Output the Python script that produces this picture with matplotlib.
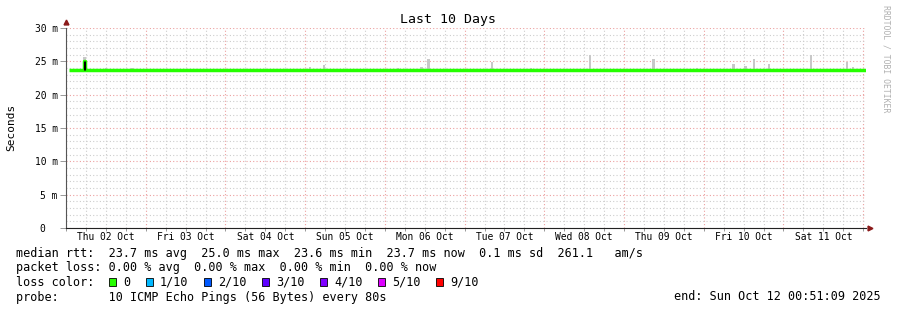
import numpy as np
import matplotlib
matplotlib.use("Agg")
import matplotlib.pyplot as plt
from matplotlib.patches import Rectangle
from matplotlib.transforms import blended_transform_factory

# ---------------------------------------------------------------
# data (hours counted from Thu 02 Oct 00:00, values in ms)
# ---------------------------------------------------------------
x_start, x_end = 0.85, 240.85
day_labels = ["Thu 02 Oct", "Fri 03 Oct", "Sat 04 Oct", "Sun 05 Oct", "Mon 06 Oct",
              "Tue 07 Oct", "Wed 08 Oct", "Thu 09 Oct", "Fri 10 Oct", "Sat 11 Oct"]

median_hours = [0.85, 5.5, 5.8, 40.0, 90.0, 140.0, 190.0, 240.85]
median_ms = [23.7, 25.0, 23.7, 23.7, 23.7, 23.7, 23.7, 23.7]

# smoke: the spread of the 10 pings above the median
smoke_hours = [5.6, 12.0, 20.0, 73.5, 77.6, 100.0, 107.1, 109.1, 128.3, 140.0,
               157.7, 176.9, 190.0, 200.9, 204.6, 207.1, 211.6, 224.3, 235.1, 237.0]
smoke_top = [25.7, 24.0, 24.0, 24.2, 24.4, 24.0, 24.2, 25.3, 24.9, 24.0,
             25.9, 25.3, 24.0, 24.6, 24.3, 25.3, 24.6, 25.9, 24.9, 24.2]
smoke_base = 23.7

loss_labels = ["0", "1/10", "2/10", "3/10", "4/10", "5/10", "9/10"]
loss_colors = ["#26ff00", "#00b8ff", "#0059ff", "#5e00ff", "#7e00ff", "#dd00ff", "#ff0000"]

legend_rows = [
    "median rtt:  23.7 ms avg  25.0 ms max  23.6 ms min  23.7 ms now  0.1 ms sd  261.1   am/s",
    "packet loss: 0.00 % avg  0.00 % max  0.00 % min  0.00 % now",
    "loss color:",
    "probe:       10 ICMP Echo Pings (56 Bytes) every 80s",
]
end_text = "end: Sun Oct 12 00:51:09 2025"

# ---------------------------------------------------------------
W, H = 897, 310
mono = "DejaVu Sans Mono"
fig = plt.figure(figsize=(W / 100, H / 100), dpi=100)
ax = fig.add_axes([66 / W, (H - 228) / H, (866 - 66) / W, 200 / H])

# smoke spikes
ms = 1e-3
ax.bar(smoke_hours, [(t - smoke_base) * ms for t in smoke_top], bottom=smoke_base * ms,
       width=0.75, color="#c8c8c8", linewidth=0, zorder=2)

# median line
ax.step(median_hours, [m * ms for m in median_ms], where="post",
        color=loss_colors[0], linewidth=2.5, zorder=3, solid_capstyle="butt")
ax.vlines([median_hours[1], median_hours[2]], median_ms[2] * ms, median_ms[1] * ms,
          color="black", linewidth=0.8, zorder=4)

ax.set_xlim(x_start, x_end)
ax.set_ylim(0, 30 * ms)

# grid
ax.set_xticks(np.arange(0, 241, 24))
ax.set_xticks(np.arange(0, 241, 6), minor=True)
ax.set_yticks(np.arange(0, 31, 5) * ms)
ax.set_yticks(np.arange(0, 31, 1) * ms, minor=True)
ax.set_xticklabels([])
ax.set_yticklabels(["0  "] + [f"{v} m" for v in range(5, 31, 5)],
                   fontfamily=mono, fontsize=6.9)
ax.grid(which="minor", color="#cdcdcd", linestyle=(0, (1, 2)), linewidth=0.8, zorder=0)
ax.grid(which="major", color="#eca0a0", linestyle=(0, (1, 2)), linewidth=0.8, zorder=1)
ax.tick_params(axis="y", which="major", length=4, width=0.6, color="#888888", pad=2)
ax.tick_params(axis="y", which="minor", length=0)
ax.tick_params(axis="x", which="both", length=2, width=0.6, color="#888888")

trans = blended_transform_factory(ax.transData, ax.transAxes)
for i, lab in enumerate(day_labels):
    ax.text(12 + 24 * i, -0.045, lab, transform=trans, ha="center", va="center",
            fontfamily=mono, fontsize=6.9)

for side in ["top", "right"]:
    ax.spines[side].set_visible(False)
ax.spines["left"].set_color("#555555")
ax.spines["bottom"].set_color("#222222")
ax.spines["left"].set_linewidth(0.8)
ax.spines["bottom"].set_linewidth(0.8)

# axis arrows
ax.plot([0], [1.03], marker="^", markersize=3.5, color="#8b1a1a", transform=ax.transAxes,
        clip_on=False)
ax.plot([1.005], [0], marker=">", markersize=3.5, color="#8b1a1a", transform=ax.transAxes,
        clip_on=False)

# titles
fig.text(448 / W, 1 - 19 / H, "Last 10 Days", ha="center", va="center",
         fontfamily=mono, fontsize=9.5)
fig.text(11 / W, 1 - 127 / H, "Seconds", ha="center", va="center", rotation=90,
         fontfamily=mono, fontsize=8)
fig.text(886 / W, 1 - 5 / H, "RRDTOOL / TOBI OETIKER", ha="center", va="top",
         rotation=270, fontfamily=mono, fontsize=5.9, color="#b0b0b0")

# legend block
row_y = [254, 268, 282, 297]
for y, line in zip(row_y, legend_rows):
    fig.text(16 / W, 1 - y / H, line, ha="left", va="center", fontfamily=mono, fontsize=8.5)
fig.text(881 / W, 1 - 297 / H, end_text, ha="right", va="center",
         fontfamily=mono, fontsize=8.5)

sq_x = [109, 146, 204, 262, 320, 378, 436]
for sx, c, lab in zip(sq_x, loss_colors, loss_labels):
    fig.patches.append(Rectangle((sx / W, 1 - 286 / H), 7 / W, 8 / H, facecolor=c,
                                 edgecolor="black", linewidth=0.6, transform=fig.transFigure))
    fig.text((sx + 14) / W, 1 - 282 / H, lab, ha="left", va="center",
             fontfamily=mono, fontsize=8.5)

fig.savefig("out.png", dpi=100, facecolor="white")
